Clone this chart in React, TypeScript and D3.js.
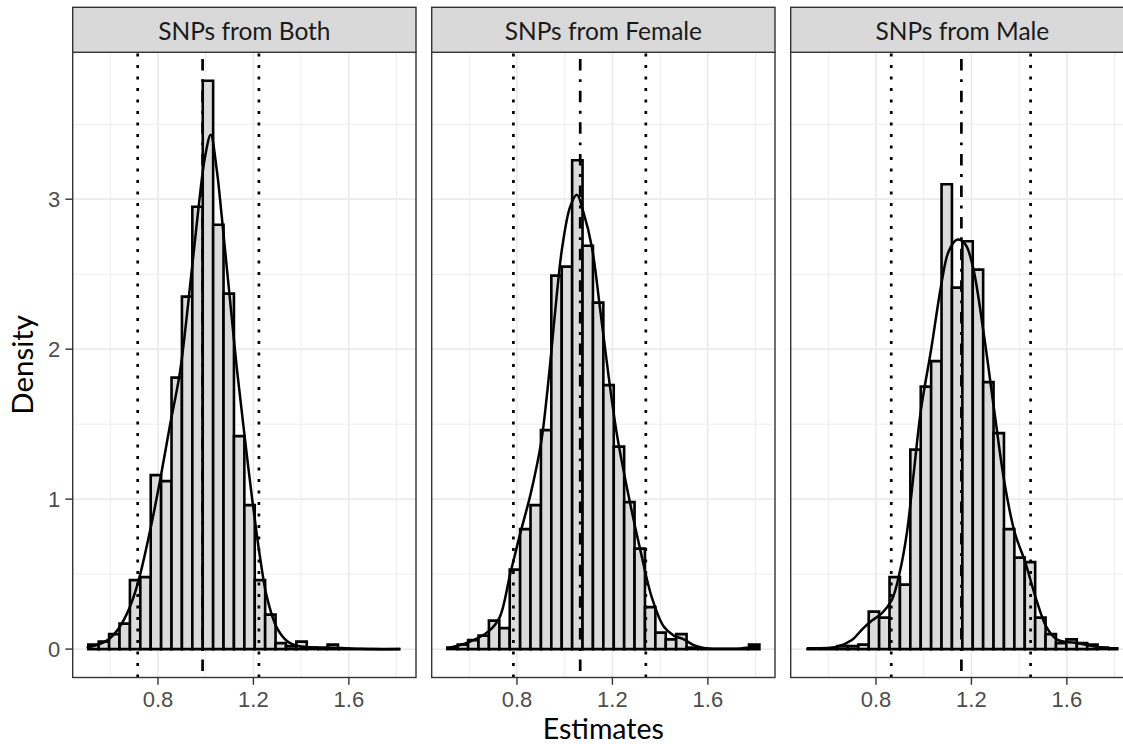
import React from 'react';
import * as d3 from 'd3';

// ---------- data ----------
const panelTitles = ['SNPs from Both', 'SNPs from Female', 'SNPs from Male'];
const binStart = 0.508;
const binWidth = 0.0436;

const histBoth = [0.03, 0.05, 0.10, 0.17, 0.46, 0.48, 1.16, 1.12, 1.81, 2.35, 2.95, 3.79, 2.83, 2.37, 1.42, 0.96, 0.46, 0.23, 0.04, 0.02, 0.05, 0.01, 0, 0.03, 0, 0, 0, 0, 0, 0];
const histFemale = [0.01, 0.03, 0.06, 0.09, 0.19, 0.14, 0.53, 0.80, 0.96, 1.46, 2.49, 2.55, 3.26, 2.69, 2.31, 1.76, 1.35, 0.98, 0.67, 0.28, 0.11, 0.065, 0.10, 0.01, 0, 0, 0, 0, 0, 0.03];
const histMale = [0, 0, 0, 0.02, 0.02, 0.03, 0.25, 0.21, 0.48, 0.43, 1.33, 1.75, 1.92, 3.10, 2.41, 2.72, 2.53, 1.78, 1.44, 0.80, 0.61, 0.58, 0.21, 0.10, 0.04, 0.065, 0.04, 0.03, 0.01, 0];

const densBothX = [0.501, 0.589, 0.635, 0.680, 0.718, 0.767, 0.809, 0.850, 0.892, 0.927, 0.969, 0.997, 1.021, 1.046, 1.067, 1.088, 1.109, 1.130, 1.158, 1.193, 1.228, 1.256, 1.298, 1.342, 1.386, 1.431, 1.507, 1.633, 1.700, 1.816];
const densBothY = [0.008, 0.060, 0.137, 0.272, 0.453, 0.790, 1.127, 1.49, 1.845, 2.31, 2.93, 3.28, 3.43, 3.20, 2.89, 2.55, 2.215, 1.878, 1.49, 1.023, 0.609, 0.35, 0.143, 0.052, 0.021, 0.013, 0.010, 0.003, 0.0, 0.0];

const densFemaleX = [0.5075, 0.594, 0.682, 0.727, 0.7715, 0.8135, 0.858, 0.9015, 0.9253, 0.945, 0.9673, 0.9897, 1.023, 1.051, 1.079, 1.114, 1.149, 1.184, 1.219, 1.268, 1.317, 1.366, 1.415, 1.457, 1.499, 1.541, 1.583, 1.65, 1.72, 1.78, 1.816];
const densFemaleY = [0.005, 0.044, 0.12, 0.21, 0.50, 0.77, 1.04, 1.38, 1.69, 2.0, 2.37, 2.68, 2.95, 3.03, 2.91, 2.68, 2.26, 1.82, 1.43, 1.02, 0.66, 0.34, 0.15, 0.09, 0.065, 0.026, 0.008, 0.002, 0.003, 0.012, 0.018];

const densMaleX = [0.5103, 0.636, 0.699, 0.741, 0.7833, 0.8252, 0.8671, 0.902, 0.930, 0.958, 0.988, 1.0314, 1.0747, 1.104, 1.139, 1.174, 1.206, 1.251, 1.294, 1.3375, 1.381, 1.4255, 1.470, 1.5135, 1.557, 1.600, 1.6435, 1.687, 1.733, 1.816];
const densMaleY = [0.005, 0.016, 0.06, 0.13, 0.19, 0.24, 0.33, 0.53, 0.78, 1.17, 1.59, 2.00, 2.44, 2.65, 2.73, 2.70, 2.55, 2.11, 1.61, 1.12, 0.78, 0.58, 0.34, 0.15, 0.065, 0.047, 0.041, 0.026, 0.013, 0.005];

const lowerCI = [0.715, 0.785, 0.864];
const centerEst = [0.987, 1.065, 1.158];
const upperCI = [1.223, 1.340, 1.448];

const xTicks = [0.8, 1.2, 1.6];
const xMinor = [0.6, 1.0, 1.4, 1.8];
const yTicks = [0, 1, 2, 3];
const yMinor = [0.5, 1.5, 2.5, 3.5];

const histAll = [histBoth, histFemale, histMale];
const densAll = [
  [densBothX, densBothY],
  [densFemaleX, densFemaleY],
  [densMaleX, densMaleY],
];

// ---------- layout ----------
const W = 1123;
const H = 744;
const panelLeft0 = 72.7;
const panelStep = 359;
const panelW = 343.3;
const panelTop = 52.3;
const panelBottom = 677.5;
const stripTop = 7.3;

const titleFont = "'Lato', 'Open Sans', sans-serif";
const tickFont = "'Liberation Sans', Arial, sans-serif";

export default function App() {
  const nBins = histBoth.length;
  const dataMin = binStart;
  const dataMax = binStart + nBins * binWidth;
  const xPad = (dataMax - dataMin) * 0.05;
  const x = d3.scaleLinear().domain([dataMin - xPad, dataMax + xPad]).range([0, panelW]);
  const yMax = d3.max(histAll.flat()) as number;
  const y = d3.scaleLinear().domain([-yMax * 0.05, yMax * 1.05]).range([panelBottom, panelTop]);

  const line = d3
    .line<[number, number]>()
    .x((d) => x(d[0]))
    .y((d) => y(d[1]))
    .curve(d3.curveCatmullRom.alpha(0.5));

  return (
    <svg width={W} height={H} style={{ position: 'absolute', left: 0, top: 0, background: '#fff' }}>
      <rect x={0} y={0} width={W} height={H} fill="#fff" />
      {panelTitles.map((title, p) => {
        const left = panelLeft0 + p * panelStep;
        const hist = histAll[p];
        const [dx, dy] = densAll[p];
        const pts: [number, number][] = dx.map((v, i) => [v, dy[i]]);
        return (
          <g key={p} transform={`translate(${left},0)`}>
            <rect x={0} y={panelTop} width={panelW} height={panelBottom - panelTop} fill="#fff" />
            {/* minor grid */}
            {xMinor.map((t) => (
              <line key={'xm' + t} x1={x(t)} x2={x(t)} y1={panelTop} y2={panelBottom} stroke="#EBEBEB" strokeWidth={0.9} />
            ))}
            {yMinor.map((t) => (
              <line key={'ym' + t} x1={0} x2={panelW} y1={y(t)} y2={y(t)} stroke="#EBEBEB" strokeWidth={0.9} />
            ))}
            {/* major grid */}
            {xTicks.map((t) => (
              <line key={'xM' + t} x1={x(t)} x2={x(t)} y1={panelTop} y2={panelBottom} stroke="#EBEBEB" strokeWidth={1.7} />
            ))}
            {yTicks.map((t) => (
              <line key={'yM' + t} x1={0} x2={panelW} y1={y(t)} y2={y(t)} stroke="#EBEBEB" strokeWidth={1.7} />
            ))}
            {/* bars */}
            {hist.map((h, i) => {
              const x0 = x(binStart + i * binWidth);
              const x1 = x(binStart + (i + 1) * binWidth);
              const y0 = y(0);
              const y1 = y(h);
              return (
                <path
                  key={'b' + i}
                  d={`M${x0},${y0}V${y1}H${x1}V${y0}Z`}
                  fill="#DBDBDB"
                  stroke="#000"
                  strokeWidth={2.6}
                  strokeLinejoin="miter"
                />
              );
            })}
            {/* density */}
            <path d={line(pts) || ''} fill="none" stroke="#000" strokeWidth={2.5} />
            {/* reference lines */}
            {[lowerCI[p], upperCI[p]].map((v, i) => (
              <line
                key={'ci' + i}
                x1={x(v)}
                x2={x(v)}
                y1={panelBottom}
                y2={panelTop}
                stroke="#000"
                strokeWidth={2.7}
                strokeDasharray="2.9 8.6"
              />
            ))}
            <line
              x1={x(centerEst[p])}
              x2={x(centerEst[p])}
              y1={panelBottom}
              y2={panelTop}
              stroke="#000"
              strokeWidth={2.7}
              strokeDasharray="2.9 8.6 11.5 8.6"
              strokeDashoffset={5}
            />
            {/* panel border */}
            <rect x={0} y={panelTop} width={panelW} height={panelBottom - panelTop} fill="none" stroke="#333" strokeWidth={1.4} />
            {/* strip */}
            <rect x={0} y={stripTop} width={panelW} height={panelTop - stripTop} fill="#D9D9D9" stroke="#333" strokeWidth={1.4} />
            <text x={panelW / 2} y={39.5} textAnchor="middle" fontFamily={titleFont} fontSize={24.5} fill="#1A1A1A">
              {title}
            </text>
            {/* x axis */}
            {xTicks.map((t) => (
              <g key={'xt' + t}>
                <line x1={x(t)} x2={x(t)} y1={panelBottom} y2={panelBottom + 7.3} stroke="#333" strokeWidth={1.4} />
                <text x={x(t)} y={707} textAnchor="middle" fontFamily={tickFont} fontSize={22} fill="#4D4D4D">
                  {t.toFixed(1)}
                </text>
              </g>
            ))}
            {/* y axis (first panel) */}
            {p === 0 &&
              yTicks.map((t) => (
                <g key={'yt' + t}>
                  <line x1={-7.3} x2={0} y1={y(t)} y2={y(t)} stroke="#333" strokeWidth={1.4} />
                  <text x={-12.5} y={y(t) + 7.8} textAnchor="end" fontFamily={tickFont} fontSize={22} fill="#4D4D4D">
                    {t}
                  </text>
                </g>
              ))}
          </g>
        );
      })}
      {/* axis titles */}
      <text
        x={(panelLeft0 + panelLeft0 + 2 * panelStep + panelW) / 2}
        y={738.5}
        textAnchor="middle"
        fontFamily={titleFont}
        fontSize={28.5}
        fill="#000"
      >
        Estimates
      </text>
      <text
        transform={`translate(33.3,${(panelTop + panelBottom) / 2}) rotate(-90)`}
        textAnchor="middle"
        fontFamily={titleFont}
        fontSize={29.5}
        fill="#000"
      >
        Density
      </text>
    </svg>
  );
}
